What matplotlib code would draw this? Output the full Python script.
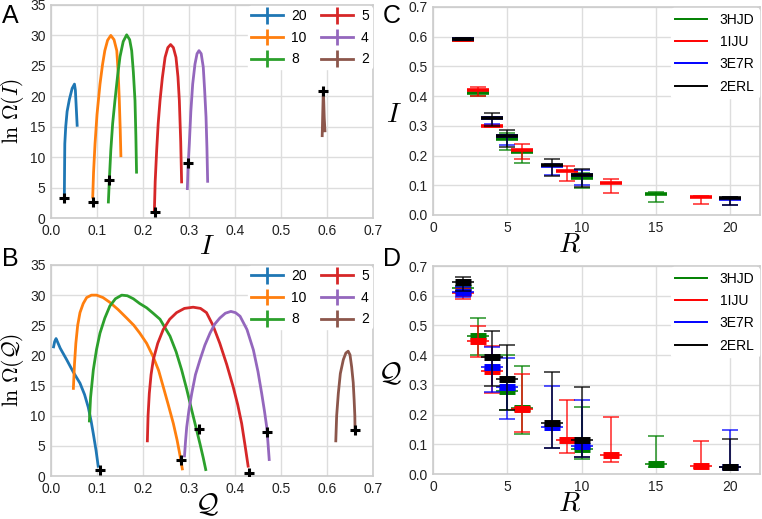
import numpy as np
import matplotlib
matplotlib.use('Agg')
import matplotlib.pyplot as plt
from matplotlib.lines import Line2D
from matplotlib.container import ErrorbarContainer
from matplotlib.legend_handler import HandlerErrorbar

plt.rcParams['font.family'] = ['Liberation Sans', 'DejaVu Sans']
plt.rcParams['mathtext.fontset'] = 'cm'

# ---------------- Panel A data: ln Omega(I) curves ----------------
R_labels = ['20', '10', '8', '5', '4', '2']
curve_colors = ['#1f77b4', '#ff7f0e', '#2ca02c', '#d62728', '#9467bd', '#8c564b']

A_I_20 = [0.029, 0.0295, 0.030, 0.032, 0.035, 0.040, 0.046, 0.051, 0.053, 0.055, 0.057]
A_ln_20 = [3.5, 8.0, 12.2, 15.0, 17.5, 19.5, 21.3, 22.0, 21.0, 18.0, 15.0]
A_I_10 = [0.0906, 0.0925, 0.0957, 0.100, 0.1065, 0.112, 0.117, 0.123, 0.130, 0.137, 0.143, 0.146, 0.1485, 0.1505, 0.152]
A_ln_10 = [3.2, 7.5, 12.2, 17.0, 22.0, 25.2, 27.5, 29.2, 30.0, 29.3, 27.5, 24.0, 19.3, 14.5, 10.0]
A_I_8 = [0.1246, 0.127, 0.130, 0.134, 0.139, 0.145, 0.150, 0.157, 0.1645, 0.171, 0.1754, 0.179, 0.1826, 0.1845, 0.186]
A_ln_8 = [2.4, 6.5, 11.1, 15.5, 19.3, 23.5, 26.5, 29.0, 30.1, 29.3, 27.5, 24.0, 19.3, 13.5, 7.3]
A_I_5 = [0.2246, 0.2265, 0.2297, 0.233, 0.237, 0.242, 0.248, 0.254, 0.260, 0.266, 0.2717, 0.276, 0.279, 0.282, 0.284]
A_ln_5 = [0.8, 6.0, 11.1, 15.5, 19.3, 23.0, 26.4, 28.0, 28.5, 28.0, 26.4, 23.2, 19.3, 12.5, 5.7]
A_I_4 = [0.2963, 0.298, 0.3007, 0.304, 0.308, 0.313, 0.3175, 0.3217, 0.3265, 0.331, 0.334, 0.337, 0.339, 0.3406]
A_ln_4 = [4.6, 8.5, 12.2, 17.5, 22.0, 25.3, 27.0, 27.5, 27.0, 24.8, 21.0, 16.6, 11.5, 5.8]
A_I_2 = [0.5895, 0.5905, 0.5915, 0.592, 0.593, 0.594, 0.5957]
A_ln_2 = [13.3, 16.5, 19.5, 21.0, 19.0, 16.5, 14.1]
A_native_I = [0.029, 0.0906, 0.1268, 0.2268, 0.2985, 0.592]
A_native_ln = [3.3, 2.7, 6.3, 1.0, 9.0, 20.8]

# ---------------- Panel B data: ln Omega(Q) curves ----------------
B_Q_20 = [0.005, 0.008, 0.011, 0.020, 0.034, 0.048, 0.063, 0.073, 0.081, 0.087, 0.092, 0.098, 0.103]
B_ln_20 = [21.2, 22.3, 22.8, 21.2, 19.3, 17.3, 15.4, 13.5, 11.4, 9.2, 7.0, 4.2, 1.4]
B_Q_10 = [0.0485, 0.051, 0.054, 0.058, 0.063, 0.070, 0.0775, 0.088, 0.099, 0.113, 0.128, 0.146,
          0.1645, 0.180, 0.193, 0.208, 0.222, 0.234, 0.244, 0.255, 0.266, 0.274, 0.280, 0.286]
B_ln_10 = [14.3, 18.5, 22.0, 25.0, 27.1, 28.6, 29.6, 30.0, 30.0, 29.6, 28.8, 27.6,
           26.2, 25.0, 23.7, 22.0, 19.8, 17.5, 14.8, 11.8, 8.7, 6.0, 3.6, 0.95]
B_Q_8 = [0.0833, 0.086, 0.092, 0.099, 0.1065, 0.117, 0.128, 0.140, 0.1537, 0.166, 0.179, 0.193,
         0.208, 0.222, 0.237, 0.2587, 0.272, 0.284, 0.295, 0.306, 0.316, 0.324, 0.331, 0.337]
B_ln_8 = [8.9, 13.0, 17.6, 21.0, 23.7, 26.2, 28.2, 29.4, 30.0, 29.9, 29.4, 28.6,
          27.9, 27.0, 26.0, 23.2, 20.6, 17.6, 14.4, 10.9, 7.8, 5.3, 3.0, 0.84]
B_Q_5 = [0.2094, 0.211, 0.2137, 0.2175, 0.2224, 0.232, 0.244, 0.258, 0.273, 0.290, 0.309, 0.325,
         0.338, 0.352, 0.367, 0.382, 0.396, 0.406, 0.4145, 0.422, 0.429]
B_ln_5 = [5.6, 10.0, 13.7, 16.8, 19.3, 22.0, 24.3, 26.0, 27.1, 27.8, 28.0, 27.8,
          27.1, 25.0, 22.0, 18.5, 14.8, 11.8, 8.7, 5.0, 1.4]
B_Q_4 = [0.290, 0.2925, 0.295, 0.300, 0.306, 0.314, 0.324, 0.3345, 0.3457, 0.356, 0.367, 0.379,
         0.391, 0.401, 0.411, 0.426, 0.440, 0.450, 0.458, 0.464, 0.469, 0.472, 0.4746]
B_ln_4 = [3.1, 5.8, 8.1, 11.0, 13.7, 16.8, 19.3, 21.7, 23.7, 25.2, 26.2, 27.0,
          27.3, 27.1, 26.5, 24.3, 20.9, 17.3, 13.7, 10.8, 8.1, 5.2, 2.5]
B_Q_2 = [0.619, 0.621, 0.6246, 0.629, 0.6355, 0.641, 0.646, 0.650, 0.6536, 0.657, 0.659, 0.6605, 0.661]
B_ln_2 = [5.6, 10.0, 13.7, 17.0, 19.3, 20.4, 20.7, 20.1, 18.1, 15.5, 12.6, 10.0, 7.5]
B_native_Q = [0.1065, 0.2826, 0.3217, 0.4297, 0.469, 0.661]
B_native_ln = [0.95, 2.7, 7.8, 0.56, 7.3, 7.7]

# ---------------- Panels C / D data ----------------
proteins = ['3HJD', '1IJU', '3E7R', '2ERL']
prot_colors = ['green', 'red', 'blue', 'black']

R_3HJD = [2, 3, 5, 6, 10, 15]
R_1IJU = [2, 3, 4, 6, 9, 12, 18]
R_3E7R = [2, 4, 5, 8, 10, 20]
R_2ERL = [2, 4, 5, 8, 10, 20]

I_3HJD = [0.590, 0.410, 0.255, 0.213, 0.125, 0.072]
I_3HJD_lo = [0.586, 0.400, 0.220, 0.175, 0.090, 0.043]
I_3HJD_hi = [0.594, 0.420, 0.275, 0.220, 0.140, 0.078]
I_1IJU = [0.590, 0.420, 0.300, 0.218, 0.147, 0.108, 0.059]
I_1IJU_lo = [0.587, 0.400, 0.297, 0.190, 0.113, 0.075, 0.038]
I_1IJU_hi = [0.593, 0.432, 0.303, 0.240, 0.166, 0.120, 0.064]
I_3E7R = [0.592, 0.327, 0.265, 0.166, 0.135, 0.055]
I_3E7R_lo = [0.589, 0.305, 0.235, 0.135, 0.100, 0.032]
I_3E7R_hi = [0.595, 0.330, 0.270, 0.170, 0.152, 0.060]
I_2ERL = [0.593, 0.327, 0.265, 0.168, 0.135, 0.057]
I_2ERL_lo = [0.590, 0.300, 0.228, 0.130, 0.093, 0.035]
I_2ERL_hi = [0.596, 0.343, 0.287, 0.190, 0.155, 0.060]

Q_3HJD = [0.627, 0.466, 0.280, 0.222, 0.085, 0.033]
Q_3HJD_lo = [0.610, 0.400, 0.215, 0.135, 0.050, 0.025]
Q_3HJD_hi = [0.632, 0.524, 0.400, 0.362, 0.225, 0.127]
Q_1IJU = [0.610, 0.448, 0.345, 0.219, 0.113, 0.064, 0.028]
Q_1IJU_lo = [0.590, 0.395, 0.272, 0.140, 0.070, 0.040, 0.020]
Q_1IJU_hi = [0.625, 0.497, 0.430, 0.335, 0.249, 0.193, 0.112]
Q_3E7R = [0.614, 0.359, 0.294, 0.158, 0.095, 0.024]
Q_3E7R_lo = [0.595, 0.277, 0.185, 0.087, 0.056, 0.017]
Q_3E7R_hi = [0.630, 0.429, 0.390, 0.297, 0.250, 0.149]
Q_2ERL = [0.645, 0.395, 0.320, 0.170, 0.115, 0.024]
Q_2ERL_lo = [0.615, 0.297, 0.215, 0.087, 0.056, 0.017]
Q_2ERL_hi = [0.662, 0.480, 0.435, 0.342, 0.294, 0.117]

A_ticks_x = [0.0, 0.1, 0.2, 0.3, 0.4, 0.5, 0.6, 0.7]
A_ticks_y = [0, 5, 10, 15, 20, 25, 30, 35]
C_ticks_x = [0, 5, 10, 15, 20]
C_ticks_y = [0.0, 0.1, 0.2, 0.3, 0.4, 0.5, 0.6, 0.7]

# ---------------- Figure ----------------
W, H = 762, 519
fig = plt.figure(figsize=(W / 100, H / 100), dpi=100)


def add_ax(x0, y0, x1, y1):
    return fig.add_axes([x0 / W, 1 - y1 / H, (x1 - x0) / W, (y1 - y0) / H])


axA = add_ax(51, 5, 373, 218)
axB = add_ax(51, 265, 373, 476)
axC = add_ax(433, 7, 760, 215)
axD = add_ax(433, 266, 760, 474)

for ax in (axA, axB, axC, axD):
    ax.set_facecolor('white')
    ax.grid(True, color='#dddddd', lw=1.0)
    ax.set_axisbelow(True)
    for s in ax.spines.values():
        s.set_color('#cccccc')
        s.set_linewidth(1.2)
    ax.tick_params(length=0, labelsize=10, pad=4, colors='#222222')

err_handler = {ErrorbarContainer: HandlerErrorbar(xerr_size=0.6)}

# Panel A / B curves
A_curves = [(A_I_20, A_ln_20), (A_I_10, A_ln_10), (A_I_8, A_ln_8),
            (A_I_5, A_ln_5), (A_I_4, A_ln_4), (A_I_2, A_ln_2)]
B_curves = [(B_Q_20, B_ln_20), (B_Q_10, B_ln_10), (B_Q_8, B_ln_8),
            (B_Q_5, B_ln_5), (B_Q_4, B_ln_4), (B_Q_2, B_ln_2)]

for ax, curves, nx, ny in ((axA, A_curves, A_native_I, A_native_ln),
                           (axB, B_curves, B_native_Q, B_native_ln)):
    handles = []
    for (xs, ys), c, lab in zip(curves, curve_colors, R_labels):
        ax.plot(xs, ys, color=c, lw=2.0, solid_capstyle='butt')
        h = ax.errorbar([np.nan], [np.nan], yerr=[0.0], color=c, lw=2.0, elinewidth=2.0)
        handles.append(h)
    ax.plot(nx, ny, ls='none', marker='+', ms=7, mew=2.2, color='black', zorder=5)
    ax.set_xlim(0, 0.7)
    ax.set_ylim(0, 35)
    ax.set_xticks(A_ticks_x)
    ax.set_xticklabels(['%.1f' % v for v in A_ticks_x])
    ax.set_yticks(A_ticks_y)
    ax.legend(handles, R_labels, ncol=2, loc='upper right', fontsize=10,
              handler_map=err_handler, frameon=True, framealpha=1.0,
              edgecolor='white', facecolor='white', borderaxespad=0.1,
              borderpad=0.2, handlelength=2.3, handletextpad=0.6,
              columnspacing=1.0, labelspacing=0.55)

axA.set_xlabel(r'$I$', fontsize=20)
axA.set_ylabel(r'$\ln\,\Omega(I)$', fontsize=15.5)
axB.set_xlabel(r'$\mathcal{Q}$', fontsize=20)
axB.set_ylabel(r'$\ln\,\Omega(\mathcal{Q})$', fontsize=15.5)
for ax in (axA, axB):
    ax.xaxis.set_label_coords(0.484, -0.075)
    ax.yaxis.set_label_coords(-0.078, 0.5)

# Panel C / D errorbars
C_sets = [(R_3HJD, I_3HJD, I_3HJD_lo, I_3HJD_hi),
          (R_1IJU, I_1IJU, I_1IJU_lo, I_1IJU_hi),
          (R_3E7R, I_3E7R, I_3E7R_lo, I_3E7R_hi),
          (R_2ERL, I_2ERL, I_2ERL_lo, I_2ERL_hi)]
D_sets = [(R_3HJD, Q_3HJD, Q_3HJD_lo, Q_3HJD_hi),
          (R_1IJU, Q_1IJU, Q_1IJU_lo, Q_1IJU_hi),
          (R_3E7R, Q_3E7R, Q_3E7R_lo, Q_3E7R_hi),
          (R_2ERL, Q_2ERL, Q_2ERL_lo, Q_2ERL_hi)]

for (R, m, lo, hi), c in zip(C_sets, prot_colors):
    m = np.array(m); lo = np.array(lo); hi = np.array(hi)
    axC.errorbar(R, m, yerr=[m - lo, hi - m], fmt='none', ecolor=c,
                 elinewidth=1.1, capsize=5.5, capthick=1.1, alpha=0.85)
    axC.plot(R, m, ls='none', marker='_', ms=16, mew=2.6, color=c)

for (R, m, lo, hi), c in zip(D_sets, prot_colors):
    m = np.array(m); lo = np.array(lo); hi = np.array(hi)
    axD.errorbar(R, m, yerr=[m - lo, hi - m], fmt='none', ecolor=c,
                 elinewidth=1.1, capsize=5.5, capthick=1.1, alpha=0.85)
    axD.plot(R, m, ls='none', marker='_', ms=11, mew=5, color=c)
    axD.plot(R, m, ls='none', marker='_', ms=16, mew=1.1, color=c)

for ax, lab in ((axC, r'$I$'), (axD, r'$\mathcal{Q}$')):
    ax.set_xlim(0, 22)
    ax.set_ylim(0, 0.7)
    ax.set_xticks(C_ticks_x)
    ax.set_yticks(C_ticks_y)
    ax.set_yticklabels(['%.1f' % v for v in C_ticks_y])
    ax.set_xlabel(r'$R$', fontsize=20)
    ax.xaxis.set_label_coords(0.416, -0.08)
    ax.set_ylabel(lab, fontsize=20, rotation=0, ha='right', va='center')
    ax.yaxis.set_label_coords(-0.095, 0.48)
    hs = [Line2D([], [], color=c, lw=1.4) for c in prot_colors]
    ax.legend(hs, proteins, loc='upper right', fontsize=10, frameon=True,
              framealpha=1.0, edgecolor='white', facecolor='white',
              borderaxespad=0.1, borderpad=0.3, handlelength=2.3,
              handletextpad=0.9, labelspacing=0.6)

for txt, x, y in (('A', 2, 16), ('B', 2, 259), ('C', 383, 16), ('D', 383, 259)):
    fig.text(x / W, 1 - y / H, txt, fontsize=18, ha='left', va='center')

fig.savefig('out.png', dpi=100)
